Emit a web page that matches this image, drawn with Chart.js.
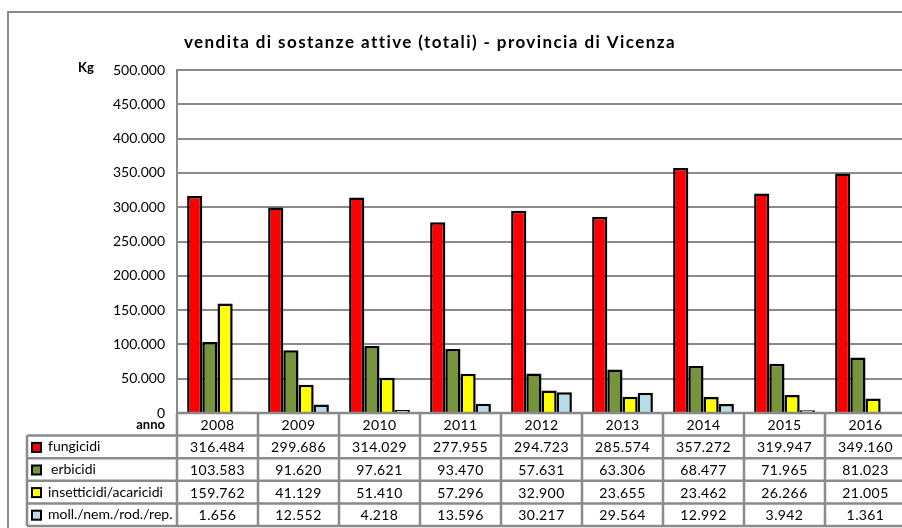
<!DOCTYPE html>
<html><head><meta charset="utf-8">
<script src="https://cdn.jsdelivr.net/npm/chart.js@4"></script>
<style>html,body{margin:0;padding:0;overflow:hidden;background:#fff;width:902px;height:528px}</style>
</head><body>
<canvas id="c" width="910" height="528" style="width:910px;height:528px;display:block"></canvas>
<script>
const years = ['2008','2009','2010','2011','2012','2013','2014','2015','2016'];
const seriesNames = ['fungicidi','erbicidi','insetticidi/acaricidi','moll./nem./rod./rep.'];
const fungicidi = [316484, 299686, 314029, 277955, 294723, 285574, 357272, 319947, 349160];
const erbicidi = [103583, 91620, 97621, 93470, 57631, 63306, 68477, 71965, 81023];
const insetticidi = [159762, 41129, 51410, 57296, 32900, 23655, 23462, 26266, 21005];
const molluschicidi = [1656, 12552, 4218, 13596, 30217, 29564, 12992, 3942, 1361];
const seriesColors = ['#ff0000','#77933c','#ffff00','#b7dee8'];
const titleText = 'vendita di sostanze attive (totali) - provincia di Vicenza';
const yUnit = 'Kg';
const xLabel = 'anno';

const FONT = 'Lato, "Open Sans", sans-serif';
const GRID = '#8a8a8a';
function fmt(v){ return String(v).replace(/\B(?=(\d{3})+(?!\d))/g,'.'); }
const allSeries = [fungicidi, erbicidi, insetticidi, molluschicidi];

const tablePlugin = {
  id:'tablePlugin',
  afterDraw(chart){
    const ctx = chart.ctx, xs = chart.scales.x, ca = chart.chartArea;
    ctx.save();
    // outer frame
    ctx.strokeStyle = GRID; ctx.lineWidth = 2;
    ctx.beginPath(); ctx.moveTo(8, 540); ctx.lineTo(8, 12); ctx.lineTo(920, 12); ctx.stroke();
    // title
    ctx.fillStyle = '#000';
    ctx.font = 'bold 17px ' + FONT;
    ctx.textAlign = 'left'; ctx.textBaseline = 'middle';
    const w0 = ctx.measureText(titleText).width;
    const target = 490;
    const ls = (target - w0) / (titleText.length - 1);
    ctx.letterSpacing = ls + 'px';
    ctx.fillText(titleText, 184, 43);
    ctx.letterSpacing = '0px';
    ctx.textAlign = 'center';
    ctx.font = 'bold 13px ' + FONT;
    ctx.fillText(yUnit, 86, 68);
    ctx.textAlign = 'right';
    ctx.fillText(xLabel, 165, 425);

    const rowH = 22.6;
    const top = ca.bottom;
    const tblLeft = 27;
    const n = years.length;
    const cw = (xs.getPixelForValue(1) - xs.getPixelForValue(0));
    const right = xs.getPixelForValue(n-1) + cw/2;
    ctx.strokeStyle = GRID; ctx.lineWidth = 2.5;
    ctx.beginPath();
    ctx.moveTo(ca.left, top); ctx.lineTo(right, top);
    for (let r=1;r<=5;r++){ const y = top + rowH*r; ctx.moveTo(tblLeft, y); ctx.lineTo(right, y); }
    ctx.moveTo(tblLeft, top+rowH); ctx.lineTo(tblLeft, top+rowH*5);
    for (let i=0;i<=n;i++){ const x = xs.getPixelForValue(0) - cw/2 + cw*i; ctx.moveTo(x, top); ctx.lineTo(x, top+rowH*5); }
    ctx.stroke();

    ctx.font = '14px ' + FONT; ctx.textAlign='center'; ctx.textBaseline='middle'; ctx.fillStyle='#000';
    ctx.letterSpacing = '0.4px';
    for (let i=0;i<n;i++){
      const x = xs.getPixelForValue(i);
      ctx.fillText(years[i], x, top + rowH*0.5 + 1);
      for (let s=0;s<4;s++) ctx.fillText(fmt(allSeries[s][i]), x, top + rowH*(s+1.5) + 1);
    }
    ctx.letterSpacing = '0px';
    ctx.textAlign='left';
    for (let s=0;s<4;s++){
      const cy = top + rowH*(s+1.5);
      ctx.fillStyle = seriesColors[s]; ctx.fillRect(32, cy-4, 9, 9);
      ctx.strokeStyle = '#000'; ctx.lineWidth = 2; ctx.strokeRect(32, cy-4, 9, 9);
      ctx.fillStyle = '#000';
      ctx.fillText(seriesNames[s], s===1 ? 51 : 48, cy);
    }
    ctx.restore();
  }
};

new Chart(document.getElementById('c'), {
  type:'bar',
  data:{
    labels: years,
    datasets: seriesNames.map((name, s) => ({
      label: name, data: allSeries[s], backgroundColor: seriesColors[s],
      borderColor:'#000', borderWidth:2.5, borderSkipped:'bottom',
      categoryPercentage:0.75, barPercentage:1.0
    }))
  },
  options:{
    responsive:false, animation:false, devicePixelRatio:1,
    layout:{ padding:{ top:70, bottom:115, left:0, right:4 } },
    plugins:{ legend:{display:false}, title:{display:false}, tooltip:{enabled:false} },
    scales:{
      x:{ display:false },
      y:{
        min:0, max:500000,
        afterFit(s){ s.width = 177; },
        grid:{ color:GRID, lineWidth:2, drawTicks:false },
        border:{ display:true, color:GRID, width:2 },
        ticks:{ stepSize:50000, padding:12, color:'#000', font:{ family:FONT, size:14 },
          callback:(v)=>fmt(v) }
      }
    }
  },
  plugins:[tablePlugin]
});
</script>
</body></html>
